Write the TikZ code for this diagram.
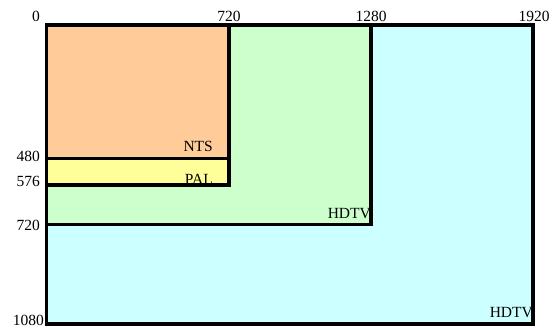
\documentclass[tikz,border=0pt]{standalone}
\usepackage{fontspec}
\setmainfont{Liberation Serif}
\definecolor{peach}{HTML}{FFCC99}
\definecolor{paly}{HTML}{FFFF99}
\definecolor{hdg}{HTML}{CCFFCC}
\definecolor{hdc}{HTML}{CCFFFF}
\begin{document}
\begin{tikzpicture}[x=1pt,y=1pt,
  frame/.style={draw=black,line width=3.8pt},
  lbl/.style={inner sep=0pt,font=\fontsize{15.5}{15.5}\selectfont}]
\useasboundingbox (0,0) rectangle (559,329);
% fills
\fill[hdc] (46.5,304) rectangle (533,5);
\fill[hdg] (46.5,304) rectangle (371,104.5);
\fill[paly] (46.5,304) rectangle (229,144);
\fill[peach] (46.5,304) rectangle (229,170.5);
% inner labels
\node[lbl,anchor=base east] (nts) at (213,177) {NTS};
\node[lbl,anchor=base east] (pal) at (213,144) {PAL};
\node[lbl,anchor=base east] (hd1) at (371,110) {HDTV};
\node[lbl,anchor=base east] (hd2) at (533,12) {HDTV};
% frames
\draw[frame] (46.5,304) rectangle (533,5);
\draw[frame] (46.5,304) rectangle (371,104.5);
\draw[frame] (46.5,304) rectangle (229,144);
\draw[frame] (46.5,170.5) -- (229,170.5);
% axis labels
\node[lbl,anchor=base] (t0) at (36,307.5) {0};
\node[lbl,anchor=base] (t720) at (229,307.5) {720};
\node[lbl,anchor=base] (t1280) at (371,307.5) {1280};
\node[lbl,anchor=base] (t1920) at (534,307.5) {1920};
\node[lbl,anchor=base east] (l480) at (40,167.5) {480};
\node[lbl,anchor=base east] (l576) at (40,142.5) {576};
\node[lbl,anchor=base east] (l720) at (40,98.5) {720};
\node[lbl,anchor=base east] (l1080) at (44,3) {1080};
\end{tikzpicture}
\end{document}
